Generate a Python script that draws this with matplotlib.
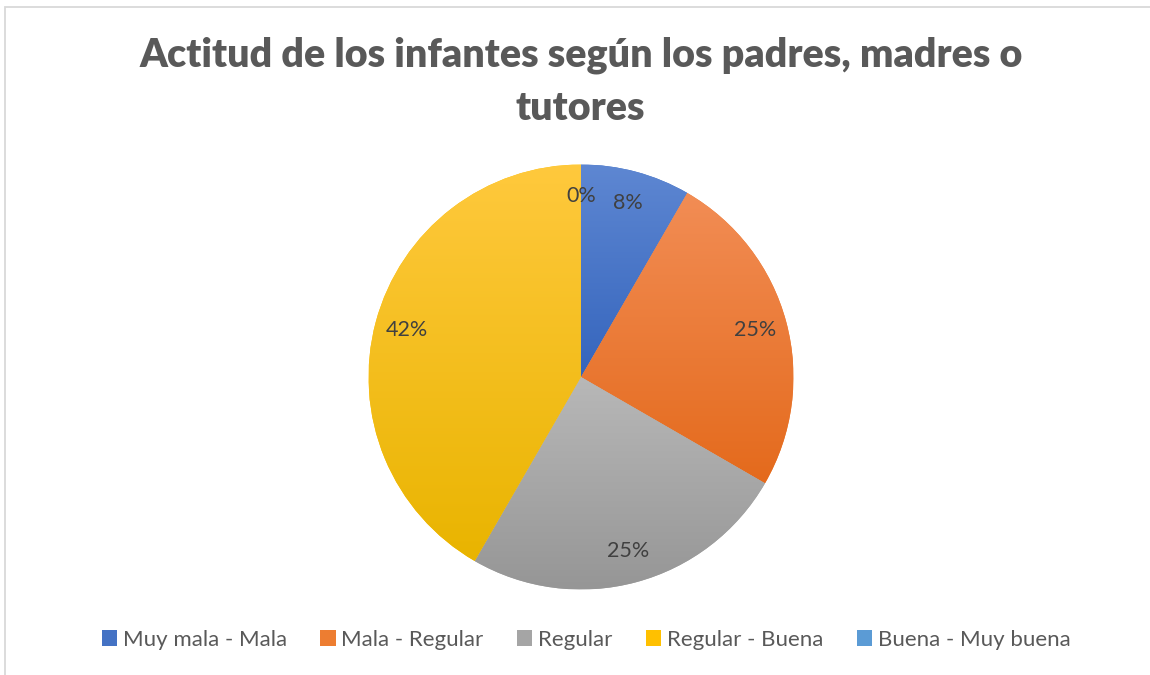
import matplotlib
matplotlib.use("Agg")
import matplotlib.pyplot as plt
import numpy as np
from matplotlib.patches import Rectangle, Patch
from matplotlib.colors import to_rgb

plt.rcParams['font.family'] = ['Lato', 'DejaVu Sans']

# data (counts -> percentages shown)
categorias = ['Muy mala - Mala', 'Mala - Regular', 'Regular', 'Regular - Buena', 'Buena - Muy buena']
valores = [1, 3, 3, 5, 0]
titulo = 'Actitud de los infantes según los padres, madres o\ntutores'

# top / bottom colours for the gradient fill of each slice
col_top = ['#5E87D2', '#F28D55', '#B8B8B8', '#FFC93D', '#6AA6DB']
col_bot = ['#3565BD', '#E46A1C', '#969696', '#E9B400', '#4A8CCB']
col_leg = ['#4472C4', '#ED7D31', '#A5A5A5', '#FFC000', '#5B9BD5']

W, H = 1150, 675
fig = plt.figure(figsize=(W / 100, H / 100), dpi=100)

# chart border (only left and top edges visible)
fig.patches.append(Rectangle((5 / W, -0.1), 1.2, 1 - 7 / H + 0.1, transform=fig.transFigure,
                             fill=False, edgecolor='#D9D9D9', linewidth=1.3))

cx, cy, r = 581, 377, 212.5
ax = fig.add_axes([(cx - r) / W, (H - cy - r) / H, 2 * r / W, 2 * r / H])

wedges, texts, autotexts = ax.pie(
    valores, startangle=90, counterclock=False, colors=col_leg,
    autopct='%1.0f%%', pctdistance=0.85, radius=1,
    textprops=dict(color='#404040', fontsize=15.5))

for w, ct, cb in zip(wedges, col_top, col_bot):
    ext = w.get_path().get_extents()
    if ext.width < 1e-6 or ext.height < 1e-6:
        continue
    t = np.linspace(0, 1, 256)[:, None]
    grad = (1 - t) * np.array(to_rgb(ct)) + t * np.array(to_rgb(cb))
    grad = grad[:, None, :]
    im = ax.imshow(grad, extent=[ext.x0, ext.x1, ext.y0, ext.y1], origin='upper',
                   aspect='auto', zorder=w.get_zorder() + 0.1, interpolation='bilinear')
    im.set_clip_path(w)
for t in autotexts:
    t.set_zorder(5)

ax.set_xlim(-1, 1)
ax.set_ylim(-1, 1)
ax.set_aspect('equal')
ax.axis('off')

fig.text(0.505, 1 - 82 / H, titulo, ha='center', va='center', fontsize=28.4, fontweight='heavy',
         color='#595959', linespacing=1.55)

handles = [Patch(facecolor=c, edgecolor='none') for c in col_leg]
leg = fig.legend(handles, categorias, loc='center', bbox_to_anchor=(586 / W, 1 - 640 / H), ncol=5,
                 frameon=False, fontsize=16, handlelength=0.7, handleheight=0.7,
                 handletextpad=0.25, columnspacing=1.5, labelcolor='#595959')

fig.savefig('out.png', dpi=100)
